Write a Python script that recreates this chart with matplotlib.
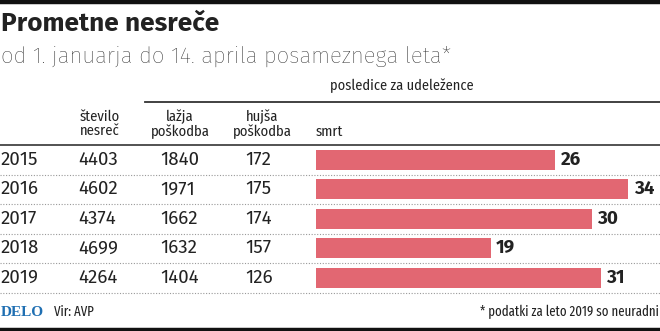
import matplotlib
matplotlib.use("Agg")
import matplotlib.pyplot as plt
from matplotlib.lines import Line2D

years = ["2015", "2016", "2017", "2018", "2019"]
nesrece = [4403, 4602, 4374, 4699, 4264]
lazja = [1840, 1971, 1662, 1632, 1404]
hujsa = [172, 175, 174, 157, 126]
smrt = [26, 34, 30, 19, 31]

W, H = 660, 331
fig = plt.figure(figsize=(W / 100, H / 100), dpi=100)
fig.patch.set_facecolor("white")

def fx(x):
    return x / W

def fy(y):
    return 1 - y / H

def hline(y, x0, x1, **kw):
    fig.add_artist(Line2D([fx(x0), fx(x1)], [fy(y), fy(y)], transform=fig.transFigure, **kw))

ink = "#222222"
sans = ["Fira Sans", "DejaVu Sans"]
narrow = ["Fira Sans Condensed", "DejaVu Sans"]
xnarrow = ["Fira Sans Extra Condensed", "DejaVu Sans"]

# okvir zgoraj in spodaj
hline(1.5, 0, W, color="#111111", lw=3.2)
hline(329.5, 0, W, color="#111111", lw=3.2)

# naslov
fig.text(fx(1), fy(24), "Prometne nesreče", family=sans, weight="bold",
         fontsize=18.8, color=ink, va="center", ha="left")
fig.text(fx(1), fy(56), "od 1. januarja do 14. aprila posameznega leta*",
         family=sans, weight="light", fontsize=16, color=ink, va="center", ha="left")

# glava tabele
fig.text(fx(330), fy(86), "posledice za udeležence", family=narrow, fontsize=10.3,
         color=ink, va="center", ha="left")
hline(102, 145, W, color="#333333", lw=1.3)
fig.text(fx(100), fy(124), "število\nnesreč", family=narrow, fontsize=10.5, color=ink,
         va="center", ha="center", linespacing=1.0)
fig.text(fx(180), fy(124), "lažja\npoškodba", family=narrow, fontsize=10.5, color=ink,
         va="center", ha="center", linespacing=1.0)
fig.text(fx(262), fy(124), "hujša\npoškodba", family=narrow, fontsize=10.5, color=ink,
         va="center", ha="center", linespacing=1.0)
fig.text(fx(316), fy(132), "smrt", family=narrow, fontsize=10.5, color=ink,
         va="center", ha="left")
hline(145, 0, W, color="#444444", lw=1.3)

# vrstice
top, pitch = 145, 29.5
for i, yr in enumerate(years):
    yc = top + pitch * (i + 0.5)
    fig.text(fx(1), fy(yc), yr, family=sans, fontsize=13.5, color=ink, va="center", ha="left")
    fig.text(fx(78), fy(yc), str(nesrece[i]), family=sans, fontsize=13.5, color=ink, va="center", ha="left")
    fig.text(fx(160), fy(yc), str(lazja[i]), family=sans, fontsize=13.5, color=ink, va="center", ha="left")
    fig.text(fx(245), fy(yc), str(hujsa[i]), family=sans, fontsize=13.5, color=ink, va="center", ha="left")
    hline(top + pitch * (i + 1), 0, W, color="#999999", lw=0.8, linestyle=(0, (1, 1.5)))

# stolpci za smrt
x0, x1 = 316, W
ax = fig.add_axes([fx(x0), fy(top + pitch * 5), fx(x1 - x0), (pitch * 5) / H])
ax.barh(range(len(smrt)), smrt, height=20 / pitch, color="#e26772", edgecolor="none")
ax.set_xlim(0, (x1 - x0) / 9.19)
ax.set_ylim(len(smrt) - 0.5, -0.5)
ax.axis("off")
for i, v in enumerate(smrt):
    ax.annotate(str(v), (v, i), xytext=(4, 0), textcoords="offset points",
                family=sans, weight="bold", fontsize=13.5, color=ink, va="center", ha="left")

# noga
fig.text(fx(1), fy(312), "DELO", family=["Liberation Serif", "DejaVu Serif"], weight="bold",
         fontsize=11, color="#1f6fb2", va="center", ha="left")
fig.text(fx(54), fy(312), "Vir: AVP", family=xnarrow, fontsize=10, color=ink, va="center", ha="left")
fig.text(fx(659), fy(312), "* podatki za leto 2019 so neuradni", family=xnarrow, fontsize=10,
         color=ink, va="center", ha="right")

fig.savefig("out.png", dpi=100)
